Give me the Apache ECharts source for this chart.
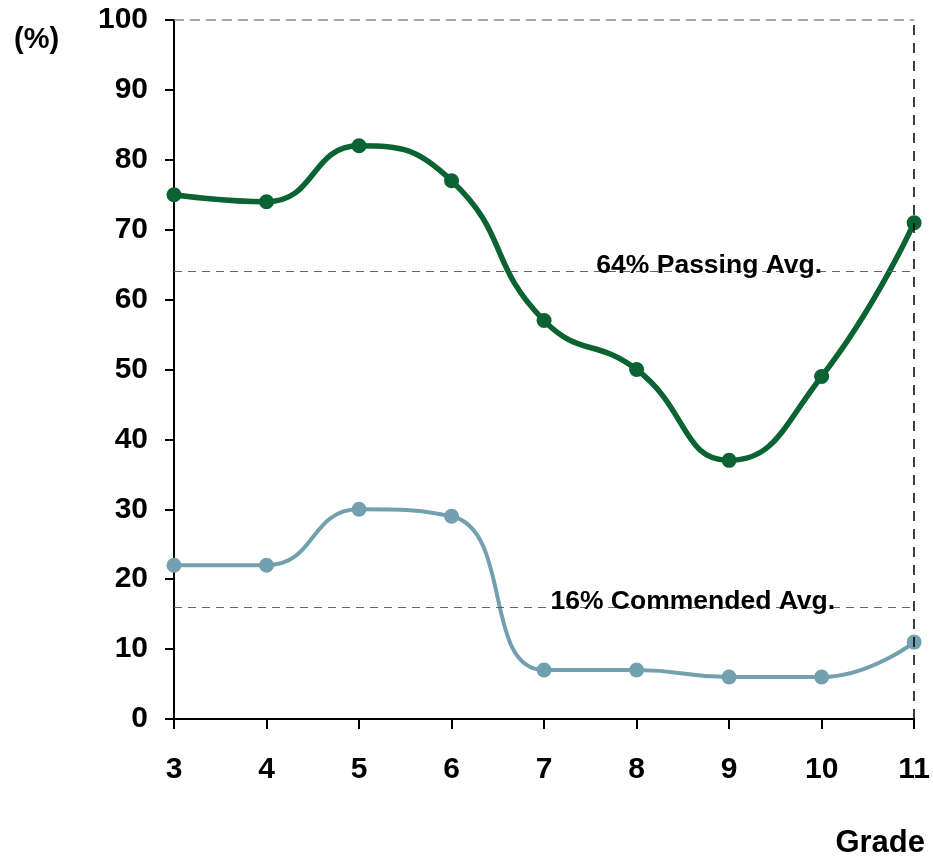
<!DOCTYPE html>
<html>
<head>
<meta charset="utf-8">
<script src="https://cdn.jsdelivr.net/npm/echarts@6/dist/echarts.min.js"></script>
<style>
  html, body { margin: 0; padding: 0; background: #fff; }
  #chart { width: 933px; height: 859px; }
</style>
</head>
<body>
<div id="chart"></div>
<script>
// Grades on the horizontal axis
const grades = [3, 4, 5, 6, 7, 8, 9, 10, 11];
// Percent passing by grade
const passing = [75, 74, 82, 77, 57, 50, 37, 49, 71];
// Percent commended by grade
const commended = [22, 22, 30, 29, 7, 7, 6, 6, 11];
// Averages drawn as reference lines
const passingAvg = 64;
const commendedAvg = 16;
const yTicks = [0, 10, 20, 30, 40, 50, 60, 70, 80, 90, 100];

const FONT = '"Liberation Sans", Arial, sans-serif';
const DARK = '#0b6232';
const LIGHT = '#72a0ae';

const pairs = vals => grades.map((g, i) => [g, vals[i]]);

const chart = echarts.init(document.getElementById('chart'));
chart.setOption({
  animation: false,
  grid: { left: 174, right: 16, top: 20, bottom: 140 },
  xAxis: {
    type: 'value', min: 3, max: 11, interval: 1,
    axisLine: { lineStyle: { color: '#000', width: 2 } },
    axisTick: { length: 10, lineStyle: { color: '#000', width: 2 } },
    splitLine: { show: false },
    axisLabel: { margin: 36, color: '#000', fontFamily: FONT, fontWeight: 'bold', fontSize: 30 }
  },
  yAxis: {
    type: 'value', min: yTicks[0], max: yTicks[yTicks.length - 1], interval: 10,
    axisLine: { show: true, lineStyle: { color: '#000', width: 2 } },
    axisTick: { show: true, length: 9, lineStyle: { color: '#000', width: 2 } },
    splitLine: { show: false },
    axisLabel: { margin: 26, color: '#000', fontFamily: FONT, fontWeight: 'bold', fontSize: 30 }
  },
  graphic: [
    { type: 'text', left: 14, top: 25, style: { text: '(%)', fill: '#000', font: 'bold 29px ' + FONT } },
    { type: 'text', right: 8, top: 828, style: { text: 'Grade', fill: '#000', font: 'bold 31px ' + FONT } }
  ],
  series: [
    {
      type: 'line', data: pairs(commended), smooth: 0.5,
      symbol: 'circle', symbolSize: 15,
      lineStyle: { color: LIGHT, width: 4 },
      itemStyle: { color: LIGHT },
      z: 3,
      markLine: {
        silent: true, symbol: 'none',
        lineStyle: { color: '#666', type: [8, 6], width: 1.2 },
        label: {
          show: true, position: 'insideEndTop', distance: -8,
          padding: [0, 87, 0, 0],
          color: '#000', fontFamily: FONT, fontWeight: 'bold', fontSize: 26.5,
          formatter: commendedAvg + '% Commended Avg.'
        },
        data: [{ yAxis: commendedAvg }]
      }
    },
    {
      type: 'line', data: pairs(passing), smooth: 0.5,
      symbol: 'circle', symbolSize: 15,
      lineStyle: { color: DARK, width: 5.5 },
      itemStyle: { color: DARK },
      z: 4,
      markLine: {
        silent: true, symbol: 'none',
        lineStyle: { color: '#666', type: [8, 6], width: 1.2 },
        label: { show: false },
        data: [
          {
            yAxis: passingAvg,
            label: {
              show: true, position: 'insideEndTop', distance: -8,
              padding: [0, 100, 0, 0],
              color: '#000', fontFamily: FONT, fontWeight: 'bold', fontSize: 26.5,
              formatter: passingAvg + '% Passing Avg.'
            }
          },
          { yAxis: 100, lineStyle: { color: '#888', type: [10, 6], width: 1.5 } },
          { xAxis: 11, lineStyle: { color: '#000', type: [10, 8], width: 1.5 } }
        ]
      }
    }
  ]
});
</script>
</body>
</html>
